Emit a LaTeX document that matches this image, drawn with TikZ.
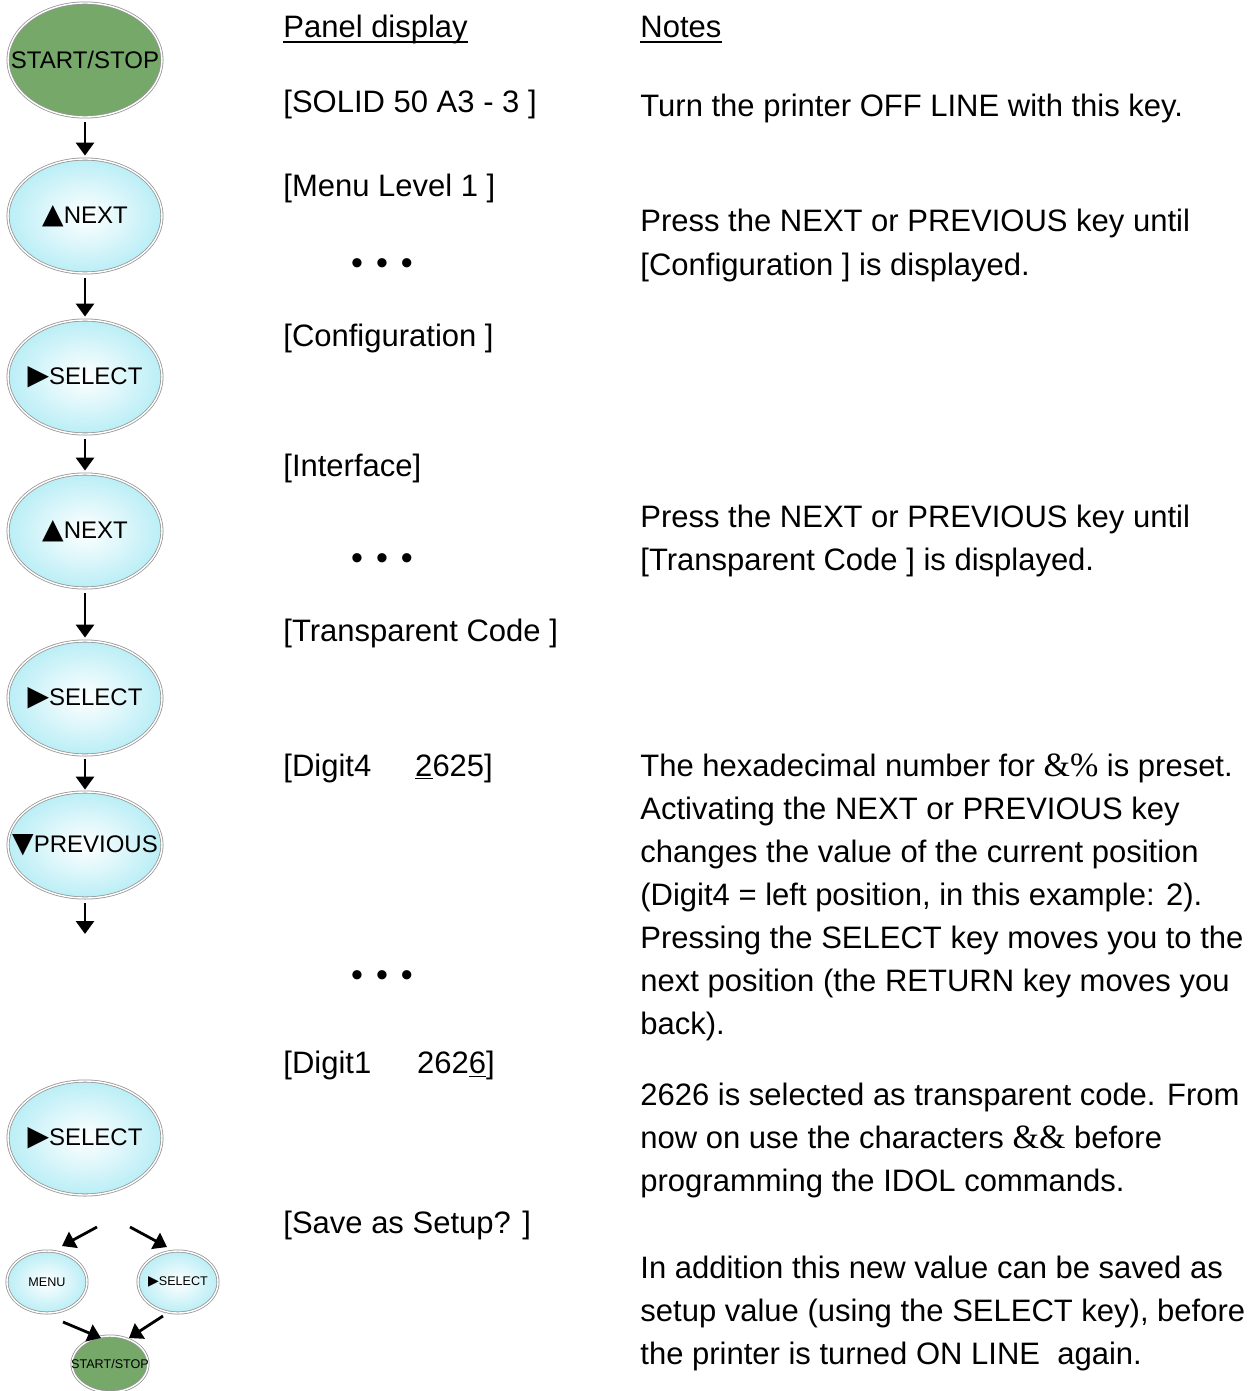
\documentclass[tikz,border=0pt]{standalone}
\usepackage{fontspec}
\setmainfont{Liberation Sans}
\newfontfamily\symfont{DejaVu Sans}
\newfontfamily\amperfont{Liberation Serif}
\usetikzlibrary{shapes.geometric, arrows.meta}

\definecolor{keyblue}{RGB}{186,238,246}
\definecolor{keygreen}{RGB}{118,168,106}
\definecolor{keyrim}{RGB}{150,150,150}

\tikzset{
  keyshape/.style={ellipse, draw=keyrim, double=white, double distance=0.7pt,
    line width=0.4pt, inner sep=0pt, minimum width=77pt, minimum height=57pt,
    font=\fontsize{12}{12}\selectfont},
  key/.style={keyshape, inner color=white, outer color=keyblue},
  gokey/.style={keyshape, fill=keygreen},
  smallkey/.style={minimum width=40pt, minimum height=31pt, font=\fontsize{6.3}{6.3}\selectfont},
  arr/.style={-{Triangle[length=6.5pt, width=9pt]}, line width=1.4pt},
  line/.style={anchor=base west, inner sep=0pt, align=left,
    font=\fontsize{15.5}{21.5}\selectfont},
  dots/.style={anchor=center, inner sep=0pt, font=\fontsize{17}{17}\selectfont},
}
\newcommand{\keytxt}[1]{\makebox[0pt]{#1}}
\newcommand{\tri}[1]{{\symfont\fontsize{14}{14}\selectfont #1}}
\newcommand{\amps}[1]{{\amperfont\fontsize{17}{17}\selectfont #1}}

\begin{document}
\begin{tikzpicture}[x=0.5pt, y=-0.5pt]
  \useasboundingbox (0,0) rectangle (1250,1391);

  % keys, left column
  \node[gokey] (start) at (85,60) {\keytxt{START/STOP}};
  \node[key] (next1) at (85,216) {\keytxt{\tri{▲}NEXT}};
  \node[key] (sel1) at (85,377) {\keytxt{\tri{▶}SELECT}};
  \node[key] (next2) at (85,531) {\keytxt{\tri{▲}NEXT}};
  \node[key] (sel2) at (85,698) {\keytxt{\tri{▶}SELECT}};
  \node[key, minimum height=53pt] (prev) at (85,845) {\keytxt{\tri{▼}PREVIOUS}};
  \coordinate (prevend) at (85,934);

  \draw[arr, shorten <=2.5pt, shorten >=1.5pt] (start) -- (next1);
  \draw[arr, shorten <=2.5pt, shorten >=1.5pt] (next1) -- (sel1);
  \draw[arr, shorten <=2.5pt, shorten >=1.5pt] (sel1) -- (next2);
  \draw[arr, shorten <=2.5pt, shorten >=1.5pt] (next2) -- (sel2);
  \draw[arr, shorten <=2pt, shorten >=1pt] (sel2) -- (prev);
  \draw[arr, shorten <=2.5pt] (prev) -- (prevend);

  % last step
  \node[key] (sel3) at (85,1138) {\keytxt{\tri{▶}SELECT}};
  \node[key, smallkey] (menu) at (47,1282) {\keytxt{MENU}};
  \node[key, smallkey] (sel4) at (178,1282) {\keytxt{{\symfont\fontsize{7}{7}\selectfont ▶}SELECT}};
  \node[gokey, smallkey, minimum width=38pt, minimum height=28pt] (stop) at (110,1364) {\keytxt{START/STOP}};

  \coordinate (a1) at (97,1227);
  \coordinate (a2) at (62,1246);
  \coordinate (b1) at (130,1227);
  \coordinate (b2) at (167,1247);
  \coordinate (c1) at (63,1322);
  \coordinate (c2) at (101,1338);
  \coordinate (d1) at (163,1316);
  \coordinate (d2) at (129,1338);
  \draw[arr] (a1) -- (a2);
  \draw[arr] (b1) -- (b2);
  \draw[arr] (c1) -- (c2);
  \draw[arr] (d1) -- (d2);

  % panel display column
  \node[line] (hdrpanel) at (283,38) {Panel display};
  \draw[line width=0.75pt] ([yshift=-2pt]hdrpanel.base west) -- ([yshift=-2pt]hdrpanel.base east);
  \node[line] (solid) at (283,113) {[SOLID 50 A3 - 3 ]};
  \node[line] (menu1) at (283,197) {[Menu Level 1 ]};
  \node[dots] (dots1) at (382,267) {•\hspace{6.5pt}•\hspace{6.5pt}•};
  \node[line] (config) at (283,346) {[Configuration ]};
  \node[line] (iface) at (283,476) {[Interface]};
  \node[dots] (dots2) at (382,562) {•\hspace{6.5pt}•\hspace{6.5pt}•};
  \node[line] (tcode) at (283,641) {[Transparent Code ]};
  \node[line] (digit4) at (283,776) {[Digit4\hspace{22pt}\underline{2}625]};
  \node[dots] (dots3) at (382,979) {•\hspace{6.5pt}•\hspace{6.5pt}•};
  \node[line] (digit1) at (283,1073) {[Digit1\hspace{23pt}262\underline{6}]};
  \node[line] (save) at (283,1233) {[Save as Setup? ]};

  % notes column (anchored on the last line)
  \node[line] (hdrnotes) at (640,38) {Notes};
  \draw[line width=0.75pt] ([yshift=-2pt]hdrnotes.base west) -- ([yshift=-2pt]hdrnotes.base east);
  \node[line] (note1) at (640,117) {Turn the printer OFF LINE with this key.};
  \node[line] (note2) at (640,275) {Press the NEXT or PREVIOUS key until\\
    {[}Configuration ] is displayed.};
  \node[line] (note3) at (640,570) {Press the NEXT or PREVIOUS key until\\
    {[}Transparent Code ] is displayed.};
  \node[line] (note4) at (640,1034) {The hexadecimal number for \amps{\&\%} is preset.\\
    Activating the NEXT or PREVIOUS key\\
    changes the value of the current position\\
    (Digit4 = left position, in this example: 2).\\
    Pressing the SELECT key moves you to the\\
    next position (the RETURN key moves you\\
    back).};
  \node[line] (note5) at (640,1191) {2626 is selected as transparent code. From\\
    now on use the characters \amps{\&\&} before\\
    programming the IDOL commands.};
  \node[line] (note6) at (640,1364) {In addition this new value can be saved as\\
    setup value (using the SELECT key), before\\
    the printer is turned ON LINE\ \ again.};
\end{tikzpicture}
\end{document}
